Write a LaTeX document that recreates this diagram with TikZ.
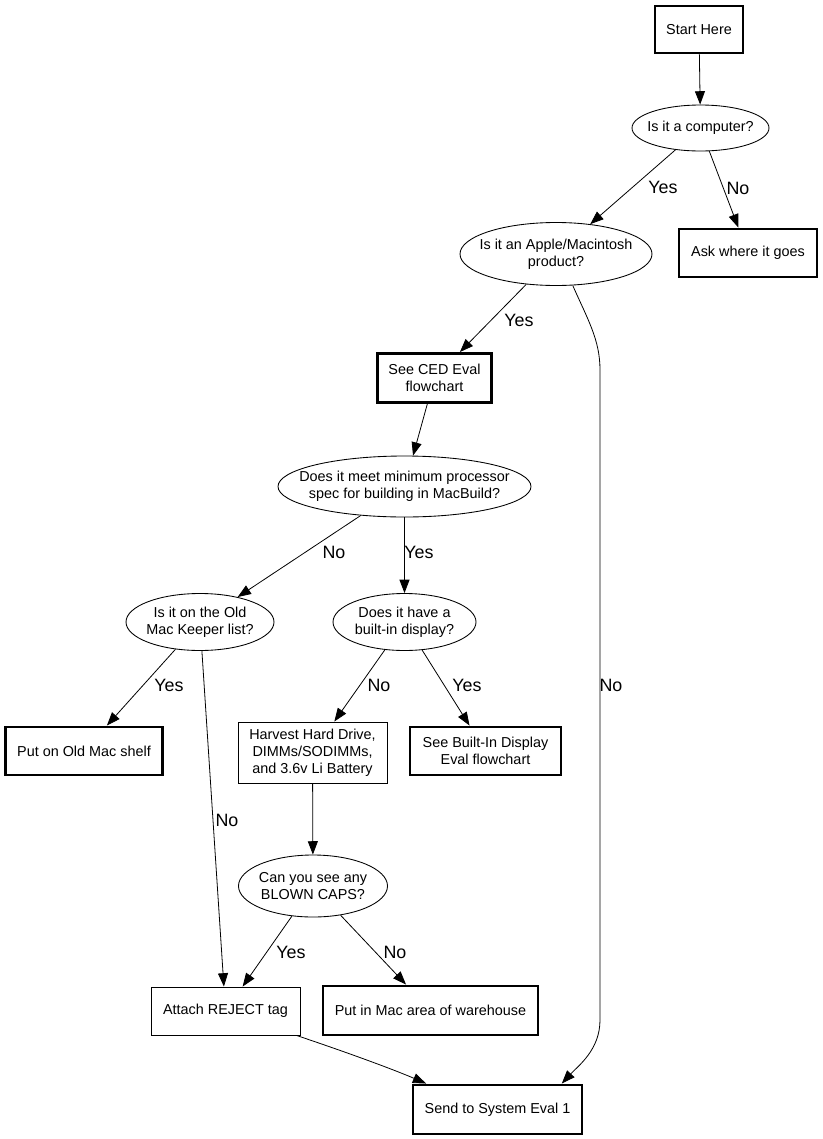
\documentclass[tikz,border=0pt]{standalone}
\usepackage{fontspec}
\setmainfont{Liberation Sans}
\usetikzlibrary{shapes.geometric,arrows.meta}

\begin{document}
\begin{tikzpicture}[x=0.75pt,y=-0.75pt,
        box/.style={draw,line width=0.7pt,align=center,inner sep=0pt,font=\fontsize{10.8}{12.75}\selectfont},
        thickbox/.style={box,line width=2.2pt},
        decision/.style={ellipse,draw,line width=0.65pt,align=center,inner xsep=-20pt,inner ysep=0pt,font=\fontsize{10.8}{12.75}\selectfont},
        arr/.style={line width=0.6pt,-{Triangle[length=10pt,width=7.5pt]}},
        lbl/.style={font=\fontsize{13.4}{15}\selectfont}]
        \useasboundingbox (0,0) rectangle (823,1139);

        \node[thickbox,minimum width=66pt,minimum height=35.25pt] (start) at (699,29.5) {Start Here};
        \node[decision,minimum width=102.75pt,minimum height=34.5pt] (comp) at (700.5,128) {Is it a computer?};
        \node[thickbox,minimum width=103.5pt,minimum height=36pt] (ask) at (748,253) {Ask where it goes};
        \node[decision,minimum width=144pt,minimum height=47.25pt] (apple) at (556,254) {Is it an Apple/Macintosh\\product?};
        \node[thickbox,minimum width=85.5pt,minimum height=36.75pt] (ced) at (434.5,378) {See CED Eval\\flowchart};
        \node[decision,minimum width=189.75pt,minimum height=45.75pt] (meet) at (404.5,486.5) {Does it meet minimum processor\\spec for building in MacBuild?};
        \node[decision,minimum width=111pt,minimum height=42.75pt] (oldmac) at (200,622) {Is it on the Old\\Mac Keeper list?};
        \node[decision,minimum width=107.25pt,minimum height=42.75pt] (display) at (404.5,622) {Does it have a\\built-in display?};
        \node[thickbox,minimum width=117.75pt,minimum height=36pt] (shelf) at (84,751) {Put on Old Mac shelf};
        \node[box,minimum width=111.75pt,minimum height=45.75pt] (harvest) at (312.5,752.5) {Harvest Hard Drive,\\DIMMs/SODIMMs,\\and 3.6v Li Battery};
        \node[thickbox,minimum width=113.25pt,minimum height=36pt] (builtin) at (485.5,751) {See Built-In Display\\Eval flowchart};
        \node[decision,minimum width=111.75pt,minimum height=46.5pt] (caps) at (313,886) {Can you see any\\BLOWN CAPS?};
        \node[box,minimum width=111.75pt,minimum height=36pt] (attach) at (225.5,1011) {Attach REJECT tag};
        \node[thickbox,minimum width=161.25pt,minimum height=36.75pt] (warehouse) at (430.5,1010.5) {Put in Mac area of warehouse};
        \node[thickbox,minimum width=126.75pt,minimum height=36.75pt] (send) at (497.5,1109.5) {Send to System Eval 1};

        \draw[arr] (start) -- (comp);
        \draw[arr] (comp) -- (apple);
        \draw[arr] (comp) -- (ask);
        \draw[arr] (apple) -- (ced);
        \draw[arr] (apple.-62) .. controls (588,320) and (600,340) .. (600,370)
            -- (600,1020) .. controls (600,1050) and (578,1066) .. (send.22.5);
        \draw[arr] (ced) -- (meet);
        \draw[arr] (meet) -- (oldmac);
        \draw[arr] (meet) -- (display);
        \draw[arr] (oldmac) -- (shelf);
        \draw[arr] (oldmac) -- (attach);
        \draw[arr] (display) -- (harvest);
        \draw[arr] (display) -- (builtin);
        \draw[arr] (harvest) -- (caps);
        \draw[arr] (caps) -- (attach);
        \draw[arr] (caps) -- (warehouse);
        \draw[arr] (attach.-19.5) .. controls (340,1050) and (390,1068) .. (send.160.8);

        % edge labels
        \node[lbl] (yescomp) at (663,187) {Yes};
        \node[lbl] (nocomp) at (738,188) {No};
        \node[lbl] (yesapple) at (519,320) {Yes};
        \node[lbl] (noapple) at (611,685) {No};
        \node[lbl] (nomeet) at (334,552) {No};
        \node[lbl] (yesmeet) at (419,552) {Yes};
        \node[lbl] (yesold) at (169,685) {Yes};
        \node[lbl] (noold) at (227,820) {No};
        \node[lbl] (nodisp) at (379,685) {No};
        \node[lbl] (yesdisp) at (467,685) {Yes};
        \node[lbl] (yescaps) at (291,952) {Yes};
        \node[lbl] (nocaps) at (395,952) {No};
    \end{tikzpicture}
\end{document}
